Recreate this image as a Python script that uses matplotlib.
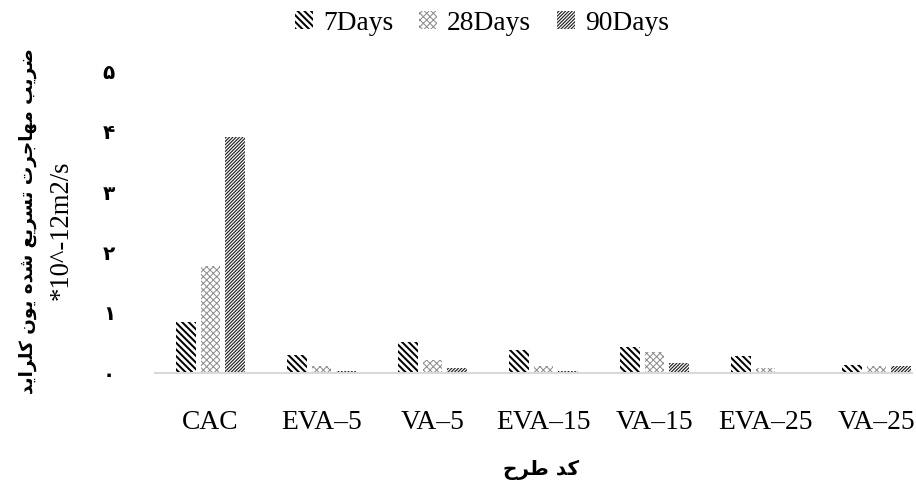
import matplotlib.pyplot as plt
import numpy as np

categories = ['CAC', 'EVA–5', 'VA–5', 'EVA–15', 'VA–15', 'EVA–25', 'VA–25']
days_7 = [0.85, 0.30, 0.52, 0.38, 0.43, 0.28, 0.13]
days_28 = [1.78, 0.12, 0.22, 0.12, 0.34, 0.08, 0.12]
days_90 = [3.92, 0.04, 0.09, 0.04, 0.17, 0.02, 0.12]
series_names = ['7Days', '28Days', '90Days']
y_ticks = [0, 1, 2, 3, 4, 5]
fa_digits = '۰۱۲۳۴۵۶۷۸۹'
y_title = 'ضریب مهاجرت تسریع شده یون کلراید'
y_unit = '*10^-12m2/s'
x_title = 'کد طرح'

# presentation forms: (isolated, final, initial, medial)
FORMS = {
    'ا': ('\uFE8D', '\uFE8E'),
    'ب': ('\uFE8F', '\uFE90', '\uFE91', '\uFE92'),
    'ت': ('\uFE95', '\uFE96', '\uFE97', '\uFE98'),
    'ج': ('\uFE9D', '\uFE9E', '\uFE9F', '\uFEA0'),
    'ح': ('\uFEA1', '\uFEA2', '\uFEA3', '\uFEA4'),
    'د': ('\uFEA9', '\uFEAA'),
    'ر': ('\uFEAD', '\uFEAE'),
    'س': ('\uFEB1', '\uFEB2', '\uFEB3', '\uFEB4'),
    'ش': ('\uFEB5', '\uFEB6', '\uFEB7', '\uFEB8'),
    'ض': ('\uFEBD', '\uFEBE', '\uFEBF', '\uFEC0'),
    'ط': ('\uFEC1', '\uFEC2', '\uFEC3', '\uFEC4'),
    'ع': ('\uFEC9', '\uFECA', '\uFECB', '\uFECC'),
    'ل': ('\uFEDD', '\uFEDE', '\uFEDF', '\uFEE0'),
    'م': ('\uFEE1', '\uFEE2', '\uFEE3', '\uFEE4'),
    'ن': ('\uFEE5', '\uFEE6', '\uFEE7', '\uFEE8'),
    'ه': ('\uFEE9', '\uFEEA', '\uFEEB', '\uFEEC'),
    'و': ('\uFEED', '\uFEEE'),
    'ک': ('\uFB8E', '\uFB8F', '\uFB90', '\uFB91'),
    'ی': ('\uFBFC', '\uFBFD', '\uFBFE', '\uFBFF'),
}


def shape_fa(text):
    # join letters into their contextual forms, then flip for right-to-left
    out = []
    for i, ch in enumerate(text):
        if ch not in FORMS:
            out.append(ch)
            continue
        f = FORMS[ch]
        prev = text[i - 1] if i > 0 else ''
        nxt = text[i + 1] if i + 1 < len(text) else ''
        join_prev = prev in FORMS and len(FORMS[prev]) == 4
        join_next = nxt in FORMS and len(f) == 4
        if join_prev and join_next:
            out.append(f[3])
        elif join_prev:
            out.append(f[1])
        elif join_next:
            out.append(f[2])
        else:
            out.append(f[0])
    return ''.join(out)[::-1]


W, H, DPI = 916, 485, 120
fig = plt.figure(figsize=(W / DPI, H / DPI), dpi=DPI)

left, right, base, top = 155, 912, 373, 71.5
ax = fig.add_axes([left / W, (H - base) / H, (right - left) / W, (base - top) / H])

serif = 'Liberation Serif'
fa_font = ['DejaVu Sans']

x = np.arange(len(categories))
step = 0.22
bw = 0.18
styles = [
    (days_7, '\\' * 6, 'black', 1.2),
    (days_28, 'x' * 6, '#8c8c8c', 0.6),
    (days_90, '/' * 12, '#202020', 0.7),
]
for k, (vals, hatch, col, hlw) in enumerate(styles):
    with plt.rc_context({'hatch.linewidth': hlw}):
        ax.bar(x + (k - 1) * step, vals, bw, facecolor='white',
               edgecolor=col, linewidth=0, hatch=hatch,
               label=series_names[k])

ax.set_xlim(-0.5, -0.5 + (right - left) / 111)
ax.set_ylim(0, 5)
for s in ['top', 'right', 'left']:
    ax.spines[s].set_visible(False)
ax.spines['bottom'].set_color('#d9d9d9')
ax.spines['bottom'].set_linewidth(1.2)

ax.set_xticks(x)
ax.set_xticklabels(categories, fontfamily=serif, fontsize=16.5)
ax.set_yticks(y_ticks)
ax.set_yticklabels([fa_digits[v] for v in y_ticks], family=fa_font,
                   fontsize=12, fontweight='bold')
ax.tick_params(axis='x', length=0, pad=22)
ax.tick_params(axis='y', length=0, pad=24)

leg = ax.legend(loc='center', bbox_to_anchor=(482 / W, 1 - 23 / H),
                bbox_transform=fig.transFigure, ncol=3, frameon=False,
                prop={'family': serif, 'size': 16.5}, handlelength=0.65,
                handleheight=0.65, handletextpad=0.36, columnspacing=0.94)
for p, st in zip(leg.get_patches(), styles):
    if hasattr(p, 'set_hatch_linewidth'):
        p.set_hatch_linewidth(st[3])

fig.text(28 / W, 1 - 221 / H, shape_fa(y_title), rotation=90, ha='center',
         va='center', family=fa_font, fontsize=11, fontweight='bold')
fig.text(61 / W, 1 - 230 / H, y_unit, rotation=90, ha='center',
         va='center', family=serif, fontsize=16)
fig.text(541 / W, 1 - 470 / H, shape_fa(x_title), ha='center',
         va='center', family=fa_font, fontsize=12, fontweight='bold')

fig.savefig('out.png', dpi=DPI)
